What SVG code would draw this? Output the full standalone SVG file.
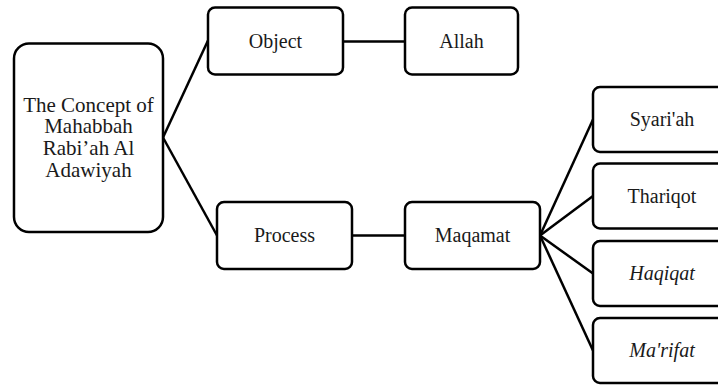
<svg xmlns="http://www.w3.org/2000/svg" width="718" height="385" viewBox="0 0 718 385">
<style>
.box{fill:#fff;stroke:#000;stroke-width:2.5}
.ln{stroke:#000;stroke-width:2.5;fill:none}
text{font-family:"Liberation Serif","Times New Roman",serif;font-size:20px;fill:#1a1a1a;text-anchor:middle}
.big{font-size:21px}
.it{font-style:italic}
</style>
<rect width="718" height="385" fill="#fff"/>
<g id="connectors">
<line class="ln" x1="163" y1="137.5" x2="208" y2="40.5"/>
<line class="ln" x1="163" y1="137.5" x2="217" y2="235.5"/>
<line class="ln" x1="343" y1="41.5" x2="405" y2="41.5"/>
<line class="ln" x1="352" y1="235.5" x2="405" y2="235.5"/>
<line class="ln" x1="540" y1="235.5" x2="593" y2="119.5"/>
<line class="ln" x1="540" y1="235.5" x2="593" y2="196"/>
<line class="ln" x1="540" y1="235.5" x2="593" y2="273.5"/>
<line class="ln" x1="540" y1="235.5" x2="593" y2="350.5"/>
</g>
<g id="concept">
<rect class="box" x="14" y="43.5" width="149" height="188.5" rx="15"/>
<text class="big" x="88.5" y="111.5">The Concept of</text>
<text class="big" x="88.5" y="133.2">Mahabbah</text>
<text class="big" x="88.5" y="154.9">Rabi’ah Al</text>
<text class="big" x="88.5" y="176.6">Adawiyah</text>
</g>
<g id="object">
<rect class="box" x="208" y="7.5" width="135" height="67" rx="7"/>
<text x="275.5" y="47.5">Object</text>
</g>
<g id="allah">
<rect class="box" x="405" y="7.5" width="113" height="67" rx="7"/>
<text x="461.5" y="47.5">Allah</text>
</g>
<g id="process">
<rect class="box" x="217" y="202" width="135" height="67" rx="7"/>
<text x="284.5" y="242">Process</text>
</g>
<g id="maqamat">
<rect class="box" x="405" y="202" width="135" height="67" rx="7"/>
<text x="472.5" y="242">Maqamat</text>
</g>
<g id="syariah">
<rect class="box" x="593" y="87" width="138" height="65" rx="7"/>
<text x="662" y="126">Syari'ah</text>
</g>
<g id="thariqot">
<rect class="box" x="593" y="163.5" width="138" height="65" rx="7"/>
<text x="662" y="203">Thariqot</text>
</g>
<g id="haqiqat">
<rect class="box" x="593" y="241" width="138" height="65" rx="7"/>
<text class="it" x="662" y="280">Haqiqat</text>
</g>
<g id="marifat">
<rect class="box" x="593" y="318" width="138" height="65" rx="7"/>
<text class="it" x="662" y="357">Ma'rifat</text>
</g>
</svg>
